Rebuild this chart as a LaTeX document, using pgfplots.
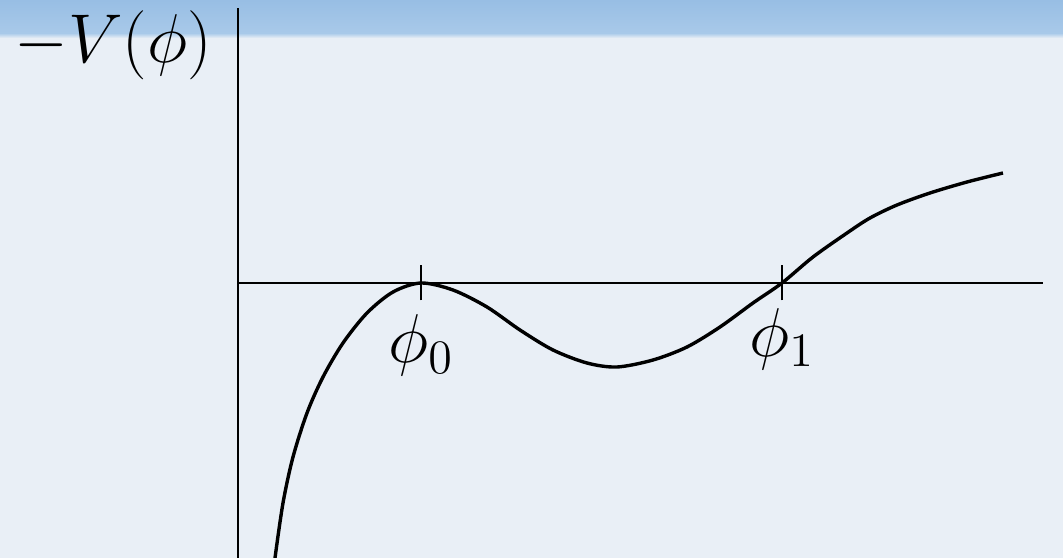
\documentclass[border=0pt]{standalone}
\usepackage{pgfplots}
\pgfplotsset{compat=1.18}
\definecolor{paper}{RGB}{233,239,246}
\definecolor{band}{RGB}{168,201,233}
\definecolor{bandtop}{RGB}{152,190,228}
\begin{document}
\begin{tikzpicture}[x=0.25pt,y=0.25pt]
  \useasboundingbox (-238,-275) rectangle (825,283);
  % page background with the blue header band
  \fill[paper] (-238,-275) rectangle (825,283);
  \shade[top color=bandtop,bottom color=band] (-238,250) rectangle (825,283);
  \shade[top color=band,bottom color=paper] (-238,245) rectangle (825,250);
  \begin{axis}[
    x=0.25pt, y=0.25pt,
    anchor=origin, at={(0,0)},
    xmin=0, xmax=805, ymin=-275, ymax=275,
    axis lines=middle,
    axis line style={-, line width=0.4pt, black},
    xtick={183},
    xticklabels={$\phi_0$},
    extra x ticks={544},
    extra x tick labels={$\phi_1$},
    extra x tick style={ticklabel style={yshift=1.5pt}},
    ytick=\empty,
    tick align=center,
    major tick length=8.75pt,
    tick style={line width=0.6pt, black},
    ticklabel style={font=\fontsize{16.8}{20}\selectfont},
    clip=false,
  ]
    \addplot[smooth, line width=0.85pt, black] coordinates {
      (37,-275) (45,-220) (55,-174) (69,-130) (85,-94) (105,-60)
      (129,-30) (155,-9) (183,0) (215,-7) (249,-24) (282,-47)
      (315,-67) (349,-80) (379,-84) (415,-77) (449,-64) (482,-44)
      (515,-20) (544,0) (575,26) (609,50) (632,65) (659,78)
      (692,90) (729,101) (765,110)
    };
    \node[inner sep=0pt, font=\fontsize{16.4}{20}\selectfont]
      at (axis cs:-125,238) {$-V(\phi)$};
  \end{axis}
\end{tikzpicture}
\end{document}
